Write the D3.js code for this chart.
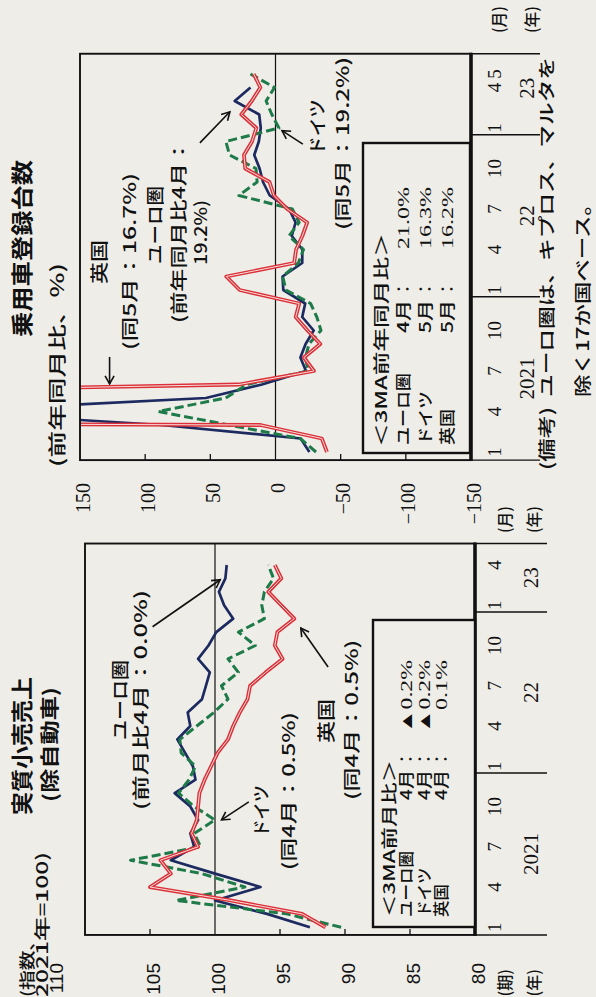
<!DOCTYPE html>
<html><head><meta charset="utf-8">
<script src="https://cdn.jsdelivr.net/npm/d3@7"></script>
<style>
html,body{margin:0;padding:0;background:#eeede8;}
svg{display:block;}
text{font-family:"Noto Sans CJK JP","Noto Sans",sans-serif;fill:#111;font-weight:500;}
.num{font-family:"Liberation Serif","DejaVu Serif",serif;font-weight:normal;}
.snum{font-family:"Liberation Sans","DejaVu Sans",sans-serif;font-weight:normal;}
</style></head><body>
<script>
// ---------------- DATA ----------------
const retailMonths = ["21/1","21/2","21/3","21/4","21/5","21/6","21/7","21/8","21/9","21/10","21/11","21/12",
  "22/1","22/2","22/3","22/4","22/5","22/6","22/7","22/8","22/9","22/10","22/11","22/12","23/1","23/2","23/3","23/4"];
const retailEuro    = [92.7,96.0,100.0,96.5,100.0,103.4,101.6,101.9,101.3,101.9,103.1,101.5,101.7,102.3,102.9,101.9,102.1,101.0,100.7,100.4,101.3,100.5,99.9,98.6,99.3,99.7,99.2,99.1];
const retailGermany = [90.3,94.5,103.0,97.7,101.0,106.5,101.1,101.6,100.0,101.6,102.8,102.0,101.5,102.6,102.7,101.4,100.1,99.0,99.5,98.2,99.0,96.9,98.2,96.2,96.4,96.2,95.5,95.9];
const retailUK      = [91.5,93.3,98.8,105.0,103.4,104.2,101.3,101.8,101.4,101.3,101.2,100.8,100.3,99.8,99.0,98.6,98.1,97.5,97.3,96.1,94.8,95.4,95.2,93.9,94.9,95.9,94.9,95.4];
const retailTicks = [110,105,100,95,90,85,80];
const retailMonthTicks = ["21/1","21/4","21/7","21/10","22/1","22/4","22/7","22/10","23/1","23/4"];

const carMonths = ["21/1","21/2","21/3","21/4","21/5","21/6","21/7","21/8","21/9","21/10","21/11","21/12",
  "22/1","22/2","22/3","22/4","22/5","22/6","22/7","22/8","22/9","22/10","22/11","22/12","23/1","23/2","23/3","23/4","23/5"];
const carEuro    = [-26.0,-19.3,87.3,256.7,53.4,10.4,-23.4,-19.1,-23.1,-29.3,-20.5,-22.8,-6.0,-5.4,-20.5,-20.6,-12.5,-15.4,-10.4,4.4,9.6,12.2,16.3,12.8,11.3,12.5,31.3,19.2];
const carGermany = [-31.1,-19.0,35.9,89.9,38.2,22.0,-25.0,-23.0,-25.7,-34.9,-31.7,-26.9,-8.0,-5.5,-17.5,-21.5,-10.3,-18.1,-12.9,28.1,14.1,15.0,35.2,38.1,-2.6,2.8,7.2,0.8,19.2];
const carUK      = [-39.5,-35.5,11.5,3052.0,599.0,28.0,-29.5,-21.8,-34.4,-24.6,-15.5,-18.2,27.5,37.8,-14.3,-15.8,-20.6,-24.3,-9.0,1.2,4.6,23.2,24.2,18.0,14.7,26.2,18.2,11.6,16.7];
const carTicks = [150,100,50,0,-50,-100,-150];
const carMonthTicks = ["21/1","21/4","21/7","21/10","22/1","22/4","22/7","22/10","23/1","23/4","23/5"];

const yearLabels = ["2021","22","23"];
const retailLegendRows = ["ユーロ圏","ドイツ","英国"];
const retailLegendMonths = ["4月","4月","4月"];
const retailLegendValues = ["▲0.2%","▲0.2%","0.1%"];
const carLegendRows = ["ユーロ圏","ドイツ","英国"];
const carLegendMonths = ["4月","5月","5月"];
const carLegendValues = ["21.0%","16.3%","16.2%"];

// ---------------- SETUP (chart is printed rotated 90° counter-clockwise) ----------------
const W = 997;
const svg = d3.select("body").append("svg").attr("width",596).attr("height",997);
svg.append("rect").attr("width",596).attr("height",997).attr("fill","#eeede8");
const defs = svg.append("defs");
defs.append("marker").attr("id","ah").attr("viewBox","-10 -6 12 12").attr("refX",0).attr("refY",0)
  .attr("markerWidth",12).attr("markerHeight",12).attr("markerUnits","userSpaceOnUse").attr("orient","auto")
  .append("path").attr("d","M-8,-4.5 L0,0 L-8,4.5").attr("fill","none").attr("stroke","#111").attr("stroke-width",1.6);
const root = svg.append("g").attr("transform",`translate(0,${W}) rotate(-90)`);

const txt = (s, X, Y, o={}) => {
  const t = root.append("text").attr("x",X).attr("y",Y).text(s).style("font-size",(o.size||16)+"px");
  if (o.anchor) t.attr("text-anchor",o.anchor);
  if (o.len) t.attr("textLength",o.len).attr("lengthAdjust","spacingAndGlyphs");
  if (o.bold) t.style("font-weight","bold");
  if (o.cls) t.attr("class",o.cls);
  return t;
};

const styles = {
  euro: [{stroke:"#1c2a60", w:2.7}],
  de:   [{stroke:"#1e7a48", w:3.0, dash:"9,4"}],
  uk:   [{stroke:"#dc2f38", w:3.8},{stroke:"#f6e0dc", w:1.0}]
};

function drawPanel(p){
  const x = d3.scaleLinear().domain([0, p.months.length-1]).range(p.xRange);
  const y = d3.scaleLinear().domain(p.yDomain).range(p.yRange);
  const X0 = x(p.boxI[0]), X1 = x(p.boxI[1]);
  const Yt = y(p.yDomain[1]), Yb = y(p.yDomain[0]);
  const g = root.append("g");
  const cid = "clip-"+p.key;
  defs.append("clipPath").attr("id",cid).append("rect")
    .attr("x",X0).attr("y",Yt).attr("width",X1-X0).attr("height",Yb-Yt);

  g.append("line").attr("x1",X0).attr("x2",X1).attr("y1",y(p.grid)).attr("y2",y(p.grid))
    .attr("stroke","#111").attr("stroke-width",1.2);
  p.ticks.filter(t=>t!==p.grid && t!==p.yDomain[0] && t!==p.yDomain[1]).forEach(t=>{
    g.append("line").attr("x1",X0).attr("x2",X0+6).attr("y1",y(t)).attr("y2",y(t))
      .attr("stroke","#111").attr("stroke-width",1.3);
  });
  const lg = g.append("g").attr("clip-path",`url(#${cid})`);
  const line = d3.line().x((d,i)=>x(i)).y(d=>y(d));
  p.series.forEach(s=>{
    styles[s.style].forEach(st=>{
      const path = lg.append("path").datum(s.vals).attr("d",line).attr("fill","none")
        .attr("stroke",st.stroke).attr("stroke-width",st.w).attr("stroke-linejoin","round");
      if (st.dash) path.attr("stroke-dasharray",st.dash);
    });
  });
  g.append("rect").attr("x",X0).attr("y",Yt).attr("width",X1-X0).attr("height",Yb-Yt)
    .attr("fill","none").attr("stroke","#111").attr("stroke-width",1.9);
  g.append("line").attr("x1",X0-1).attr("x2",X1+1).attr("y1",Yb).attr("y2",Yb)
    .attr("stroke","#111").attr("stroke-width",3.6);
  [X0, X1].concat(p.yearDiv.map(d=>x(d))).forEach(xx=>{
    g.append("line").attr("x1",xx).attr("x2",xx).attr("y1",Yb).attr("y2",p.extBottom)
      .attr("stroke","#111").attr("stroke-width",1.4);
  });
  p.ticks.forEach(t=>{
    const yy = (t===p.yDomain[1] && p.topLabelY) ? p.topLabelY : y(t)+9.5;
    txt(t<0 ? "−"+Math.abs(t) : String(t), p.labelX, yy, {size:p.labelSize, anchor:"end", cls:p.labelCls});
  });
  p.monthTicks.forEach(m=>{
    const i = p.months.indexOf(m);
    txt(m.split("/")[1], x(i), p.monthY, {size:19, anchor:"middle", cls:"num"});
  });
  const edges = [X0].concat(p.yearDiv.map(d=>x(d))).concat([X1]);
  yearLabels.forEach((yl,k)=>{
    txt(yl, (edges[k]+edges[k+1])/2 + (p.yearShift[k]||0), p.yearY, {size:21, anchor:"middle", cls:"num"});
  });
  p.arrows.forEach(a=>{
    g.append("line").attr("x1",x(a.from[0])).attr("y1",y(a.from[1])).attr("x2",x(a.to[0])).attr("y2",y(a.to[1]))
      .attr("stroke","#111").attr("stroke-width",1.6).attr("marker-end","url(#ah)");
  });
  return {x,y};
}

// ---------------- LEFT PANEL : 実質小売売上 ----------------
drawPanel({
  key:"retail", months:retailMonths,
  series:[{vals:retailEuro,style:"euro"},{vals:retailGermany,style:"de"},{vals:retailUK,style:"uk"}],
  xRange:[69.7, 432.0], boxI:[-0.57, 28.6],
  yDomain:[80,110], yRange:[475,85], ticks:retailTicks, grid:100,
  labelX:34, labelSize:19, labelCls:"snum", topLabelY:63,
  monthTicks:retailMonthTicks, monthY:501, yearY:538, yearShift:[0,0,0],
  yearDiv:[11.5,23.5], extBottom:547,
  arrows:[
    {from:[22.4,104.8], to:[25.9,99.6]},
    {from:[9.35,97.4], to:[8.0,99.5]},
    {from:[19.4,91.3], to:[22.3,93.4]}
  ]
});
txt("実質小売売上", 182, 30, {size:22, bold:true, len:138});
txt("(除自動車)", 195, 57, {size:19, bold:true, len:115});
txt("(指数、", 0, 33, {size:16, len:66});
txt("2021年=100)", 0, 48, {size:16, len:145});
txt("ユーロ圏", 297, 127, {size:18, anchor:"middle", len:80});
txt("(前月比4月：0.0%)", 187, 147, {size:17, len:220});
txt("ドイツ", 160, 268, {size:18, len:52});
txt("(同4月：0.5%)", 127, 295, {size:17, len:158});
txt("英国", 276, 333, {size:18, anchor:"middle", len:44});
txt("(同4月：0.5%)", 197, 358, {size:17, len:160});
txt("(月)", 464, 511, {size:16, len:27});
txt("(年)", 464, 540, {size:16, len:27});
txt("(期)", 28, 511, {size:16, anchor:"end"});
txt("(年)", 28, 540, {size:16, anchor:"end"});
root.append("rect").attr("x",70).attr("y",373).attr("width",307).attr("height",102)
  .attr("fill","#eeede8").attr("stroke","#111").attr("stroke-width",2.4);
txt("＜3MA前月比＞", 80, 395, {size:16, len:157});
retailLegendRows.forEach((r,k)=>{
  const yy = 412 + k*17.5;
  txt(r, 80, yy, {size:16, len:r.length*16.5});
  txt(retailLegendMonths[k], 197, yy, {size:16, len:30});
  txt("：", 230, yy, {size:16});
  txt(retailLegendValues[k], 337, yy, {size:16, anchor:"end", cls:"num", len: retailLegendValues[k].startsWith("▲") ? 73 : 50});
});

// ---------------- RIGHT PANEL : 乗用車登録台数 ----------------
drawPanel({
  key:"car", months:carMonths,
  series:[{vals:carEuro,style:"euro"},{vals:carGermany,style:"de"},{vals:carUK,style:"uk"}],
  xRange:[545, 923], boxI:[-0.6, 29.5],
  yDomain:[-150,150], yRange:[471,80], ticks:carTicks, grid:0,
  labelX:514, labelSize:20, labelCls:"num",
  monthTicks:carMonthTicks, monthY:501, yearY:534, yearShift:[0,0,6],
  yearDiv:[11.5,23.5], extBottom:540,
  arrows:[
    {from:[7.04,127.3], to:[5.04,127.3]},
    {from:[22.9,58], to:[25.2,35]},
    {from:[22.8,-21], to:[23.8,-5]}
  ]
});
txt("乗用車登録台数", 660, 30, {size:22, bold:true, len:177});
txt("(前年同月比、%)", 530, 64, {size:18, len:204});
txt("英国", 735, 106, {size:18, anchor:"middle", len:44});
txt("(同5月：16.7%)", 647, 136, {size:17, len:177});
txt("ユーロ圏", 772, 162, {size:18, anchor:"middle", len:78});
txt("(前年同月比4月：", 674, 185, {size:17, len:183});
txt("19.2%)", 732, 207, {size:17, len:65});
txt("ドイツ", 842, 324, {size:18, len:56});
txt("(同5月：19.2%)", 767, 349, {size:17, len:173});
txt("(月)", 964, 505, {size:16, len:27});
txt("(年)", 964, 538, {size:16, len:27});
root.append("rect").attr("x",544).attr("y",363).attr("width",310).attr("height",107)
  .attr("fill","#eeede8").attr("stroke","#111").attr("stroke-width",2.4);
txt("＜3MA前年同月比＞", 550, 387, {size:16, len:214});
carLegendRows.forEach((r,k)=>{
  const yy = 409 + k*22;
  txt(r, 552, yy, {size:16, len:r.length*18});
  txt(carLegendMonths[k], 664, yy, {size:16, len:33});
  txt("：", 700, yy, {size:16});
  txt(carLegendValues[k], 810, yy, {size:17, anchor:"end", cls:"num", len:62});
});
txt("(備考)", 527, 553, {size:17, len:63});
txt("ユーロ圏は、キプロス、マルタを", 600, 553, {size:17, len:340});
txt("除く17か国ベース。", 600, 589, {size:17, len:204});
</script>
</body></html>
